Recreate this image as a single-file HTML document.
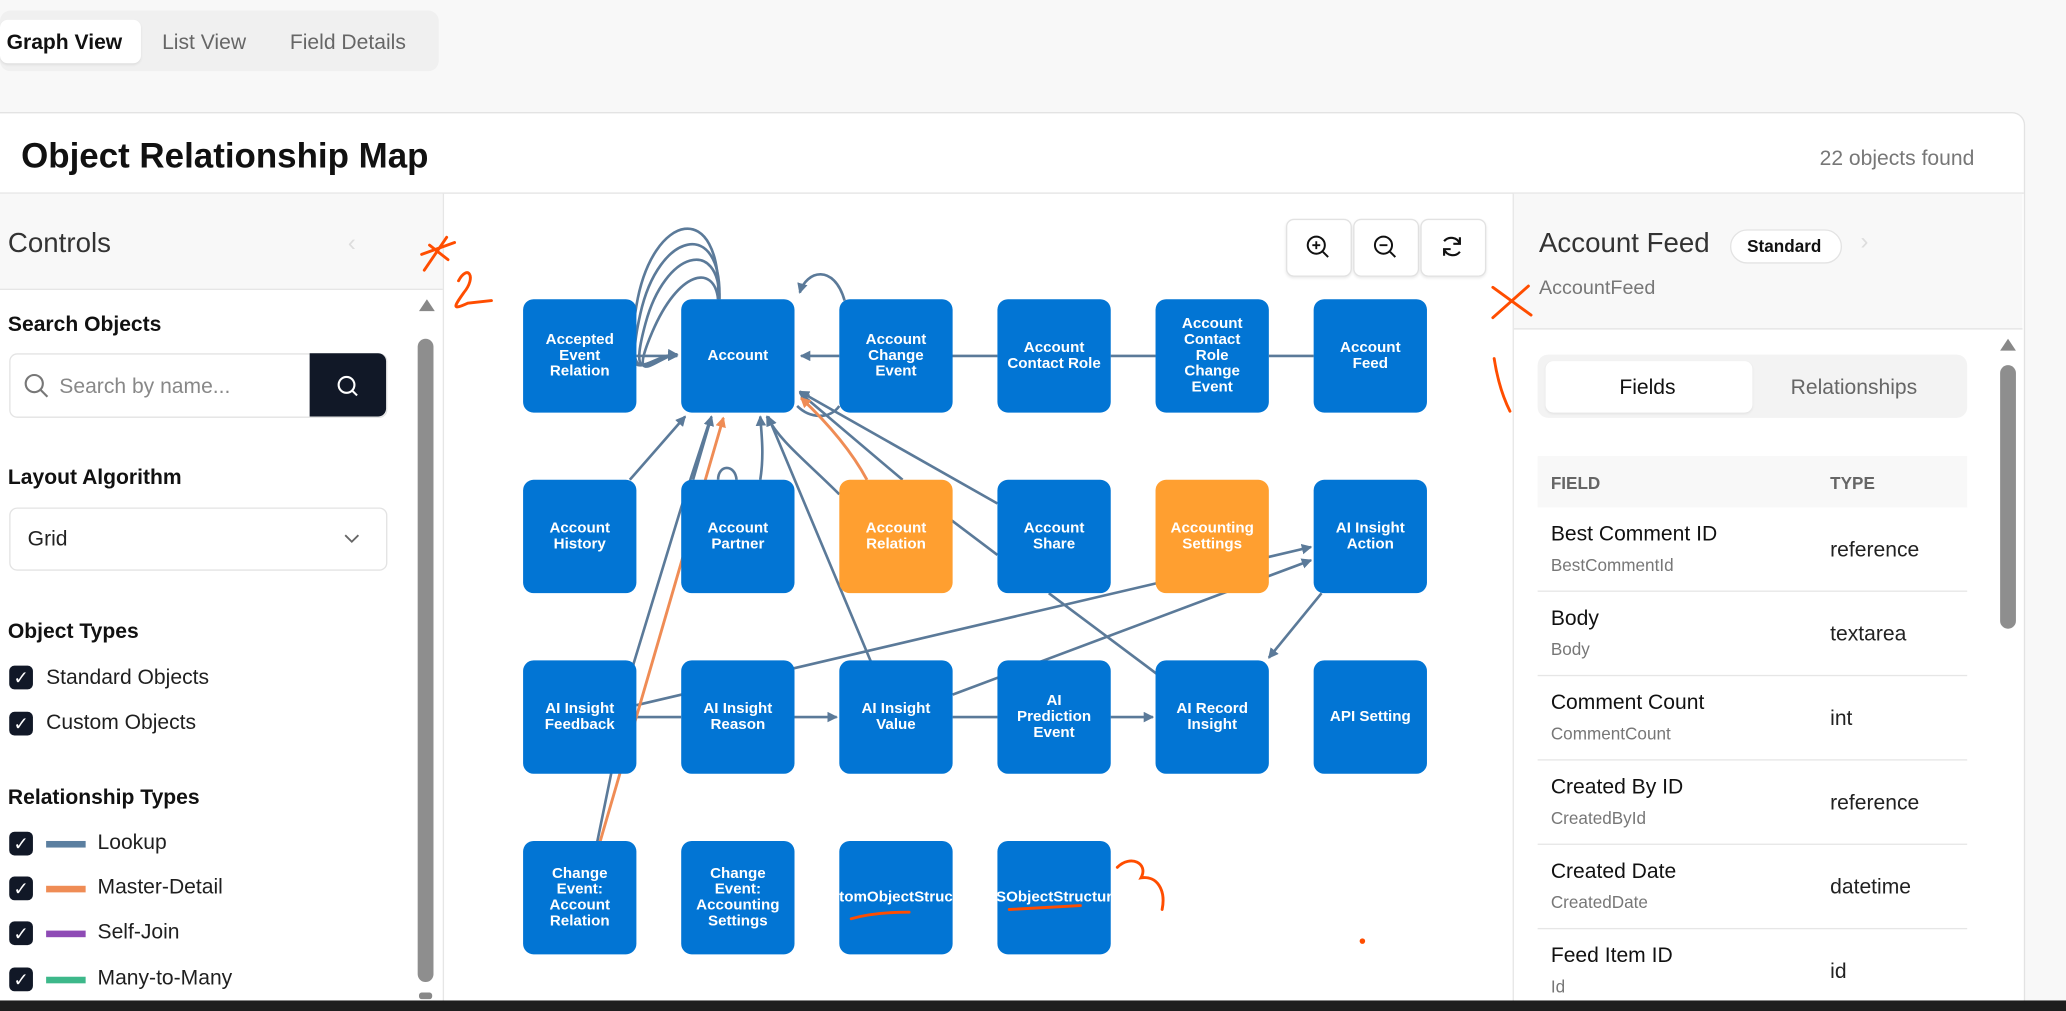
<!DOCTYPE html>
<html><head><meta charset="utf-8"><style>
html,body{margin:0;padding:0;width:2066px;height:1011px;overflow:hidden;background:#f8f8f8;font-family:"Liberation Sans",sans-serif;}
#s{position:absolute;left:0;top:0;width:1568px;height:767px;transform:scale(1.31760,1.31813);transform-origin:0 0;overflow:hidden;}
.a{position:absolute;}
.t{position:absolute;white-space:nowrap;}
.node{position:absolute;width:86px;height:86px;border-radius:8px;background:#0275d4;color:#fff;font-weight:bold;font-size:11.5px;line-height:12px;display:flex;align-items:center;justify-content:center;text-align:center;overflow:hidden;white-space:normal;}
.or{background:#ff9f30;}
.cb{position:absolute;width:18px;height:18px;border-radius:4px;background:#111827;color:#fff;font-size:14px;line-height:18px;text-align:center;}
.lbl{font-size:16px;color:#1f1f1f;}
.h{font-size:16px;font-weight:bold;color:#111;}
.zb{position:absolute;top:166px;width:48px;height:42px;border:1px solid #e2e2e2;border-radius:6px;background:#fff;box-shadow:0 1px 2px rgba(0,0,0,.08);}
.row{position:absolute;left:1167px;width:326px;height:63px;border-bottom:1px solid #e6e6e6;}
.fn{position:absolute;left:10px;top:12px;font-size:16px;color:#111;}
.fa{position:absolute;left:10px;top:36px;font-size:13px;color:#777;}
.ft{position:absolute;left:222px;top:24px;font-size:16px;color:#222;}
</style></head><body><div id="s">
<div class="a" style="left:0;top:8px;width:333px;height:46px;background:#f0f0f0;border-radius:8px;"></div>
<div class="a" style="left:0;top:15px;width:107px;height:33px;background:#fff;border-radius:6px;box-shadow:0 1px 2px rgba(0,0,0,.08);"></div>
<div class="t" style="left:5px;top:24px;font-size:16px;font-weight:bold;color:#111;">Graph View</div>
<div class="t" style="left:123px;top:24px;font-size:16px;color:#666;">List View</div>
<div class="t" style="left:220px;top:24px;font-size:16px;color:#666;">Field Details</div>
<div class="a" style="left:-1px;top:85px;width:1536px;height:700px;background:#fff;border:1px solid #e3e3e3;border-radius:0 10px 0 0;"></div>
<div class="t" style="left:16px;top:103px;font-size:26.5px;font-weight:bold;color:#111;">Object Relationship Map</div>
<div class="t" style="left:1381px;top:112px;font-size:16px;color:#777;">22 objects found</div>
<div class="a" style="left:0;top:146px;width:1536px;height:1px;background:#e3e3e3;"></div>
<div class="a" style="left:0;top:147px;width:336px;height:72px;background:#f8f8f8;border-bottom:1px solid #e6e6e6;"></div>
<div class="t" style="left:6px;top:173px;font-size:21px;color:#333;">Controls</div>
<div class="t" style="left:264px;top:174px;font-size:18px;color:#ddd;">‹</div>
<div class="a" style="left:336px;top:147px;width:1px;height:620px;background:#e6e6e6;"></div>
<div class="a" style="left:318px;top:227px;width:0;height:0;border-left:6px solid transparent;border-right:6px solid transparent;border-bottom:9px solid #888;"></div>
<div class="a" style="left:317px;top:257px;width:12px;height:488px;background:#8e8e8e;border-radius:6px;"></div>
<div class="a" style="left:318px;top:753px;width:10px;height:5px;background:#888;border-radius:2px;"></div>
<div class="t h" style="left:6px;top:238px;">Search Objects</div>
<div class="a" style="left:7px;top:268px;width:285px;height:47px;border:1px solid #e3e3e3;border-radius:6px;background:#fff;"></div>
<svg class="a" style="left:18px;top:283px" width="20" height="20"><circle cx="8" cy="8" r="6.5" fill="none" stroke="#777" stroke-width="1.6"/><line x1="13" y1="13" x2="18" y2="18" stroke="#777" stroke-width="1.6"/></svg>
<div class="t" style="left:45px;top:285px;font-size:16px;color:#888;">Search by name...</div>
<div class="a" style="left:235px;top:268px;width:58px;height:48px;background:#111827;border-radius:0 6px 6px 0;"></div>
<svg class="a" style="left:255px;top:284px" width="20" height="20"><circle cx="8" cy="8" r="6" fill="none" stroke="#fff" stroke-width="1.6"/><line x1="12.5" y1="12.5" x2="16" y2="16" stroke="#fff" stroke-width="1.6"/></svg>
<div class="t h" style="left:6px;top:354px;">Layout Algorithm</div>
<div class="a" style="left:7px;top:385px;width:285px;height:46px;border:1px solid #e3e3e3;border-radius:6px;background:#fff;"></div>
<div class="t" style="left:21px;top:401px;font-size:16px;color:#222;">Grid</div>
<svg class="a" style="left:260px;top:404px" width="14" height="10"><polyline points="2,2 7,7 12,2" fill="none" stroke="#666" stroke-width="1.4"/></svg>
<div class="t h" style="left:6px;top:471px;">Object Types</div>
<div class="cb" style="left:7px;top:505px;">✓</div><div class="t lbl" style="left:35px;top:506px;">Standard Objects</div>
<div class="cb" style="left:7px;top:540px;">✓</div><div class="t lbl" style="left:35px;top:540px;">Custom Objects</div>
<div class="t h" style="left:6px;top:597px;">Relationship Types</div>
<div class="cb" style="left:7px;top:631px;">✓</div><div class="a" style="left:35px;top:638px;width:30px;height:5px;background:#5b7fa0;"></div><div class="t lbl" style="left:74px;top:631px;">Lookup</div>
<div class="cb" style="left:7px;top:665px;">✓</div><div class="a" style="left:35px;top:672px;width:30px;height:5px;background:#ef8c55;"></div><div class="t lbl" style="left:74px;top:665px;">Master-Detail</div>
<div class="cb" style="left:7px;top:699px;">✓</div><div class="a" style="left:35px;top:706px;width:30px;height:5px;background:#8e4bb5;"></div><div class="t lbl" style="left:74px;top:699px;">Self-Join</div>
<div class="cb" style="left:7px;top:734px;">✓</div><div class="a" style="left:35px;top:741px;width:30px;height:5px;background:#3db88a;"></div><div class="t lbl" style="left:74px;top:734px;">Many-to-Many</div>
<div class="zb" style="left:976px;"></div><div class="zb" style="left:1027px;"></div><div class="zb" style="left:1078px;"></div>
<svg class="a" style="left:990px;top:177px" width="20" height="20"><circle cx="9" cy="9" r="6.5" fill="none" stroke="#111" stroke-width="1.5"/><line x1="14" y1="14" x2="18" y2="18" stroke="#111" stroke-width="1.5"/><line x1="6" y1="9" x2="12" y2="9" stroke="#111" stroke-width="1.4"/><line x1="9" y1="6" x2="9" y2="12" stroke="#111" stroke-width="1.4"/></svg>
<svg class="a" style="left:1041px;top:177px" width="20" height="20"><circle cx="9" cy="9" r="6.5" fill="none" stroke="#111" stroke-width="1.5"/><line x1="14" y1="14" x2="18" y2="18" stroke="#111" stroke-width="1.5"/><line x1="6" y1="9" x2="12" y2="9" stroke="#111" stroke-width="1.4"/></svg>
<svg class="a" style="left:1092px;top:177px" width="20" height="20"><path d="M16 8 A7 7 0 0 0 4 6" fill="none" stroke="#111" stroke-width="1.6"/><path d="M4 12 A7 7 0 0 0 16 14" fill="none" stroke="#111" stroke-width="1.6"/><polyline points="16,3 16,8 11,8" fill="none" stroke="#111" stroke-width="1.6"/><polyline points="4,17 4,12 9,12" fill="none" stroke="#111" stroke-width="1.6"/></svg>
<svg class="a" style="left:0;top:0" width="1568" height="767">
<defs>
<marker id="ag" markerWidth="8" markerHeight="8" refX="7" refY="4" orient="auto" markerUnits="userSpaceOnUse"><path d="M0,0 L8,4 L0,8 z" fill="#5b7a99"/></marker>
<marker id="ao" markerWidth="8" markerHeight="8" refX="7" refY="4" orient="auto" markerUnits="userSpaceOnUse"><path d="M0,0 L8,4 L0,8 z" fill="#ef8c55"/></marker>
</defs>
<g fill="none" stroke="#5b7a99" stroke-width="2">
<path d="M545 227 C548 150 495 160 483 232 S492 268 514 269" marker-end="url(#ag)"/>
<path d="M546 227 C548 165 500 175 486 238 S495 268 514 269"/>
<path d="M546 227 C546 180 505 190 490 245 S498 268 514 269"/>
<path d="M545 227 C542 200 515 205 495 252 S502 268 514 269"/>
<line x1="483" y1="270" x2="514" y2="270" marker-end="url(#ag)"/>
<line x1="637" y1="270" x2="608" y2="270" marker-end="url(#ag)"/>
<line x1="683" y1="270" x2="757" y2="270"/><line x1="843" y1="270" x2="877" y2="270"/><line x1="963" y1="270" x2="997" y2="270"/>
<path d="M641 228 C633 200 612 205 607 222" marker-end="url(#ag)"/>
<line x1="478" y1="364" x2="520" y2="316" marker-end="url(#ag)"/>
<line x1="526" y1="364" x2="540" y2="316" marker-end="url(#ag)"/>
<path d="M545 364 C545 352 558 352 559 364"/>
<path d="M577 364 C580 345 578 330 577 316" marker-end="url(#ag)"/>
<path d="M637 375 C612 350 592 335 582 316" marker-end="url(#ag)"/>
<line x1="661" y1="502" x2="583" y2="316" marker-end="url(#ag)"/>
<polyline points="453,640 481,503 517,385 539,318"/>
<line x1="685" y1="364" x2="607" y2="298" marker-end="url(#ag)"/>
<path d="M605 308 C615 318 630 318 637 308"/>
<line x1="757" y1="382" x2="607" y2="297" marker-end="url(#ag)"/>
<line x1="700" y1="378" x2="757" y2="421"/>
<line x1="796" y1="450" x2="879" y2="512"/>
<line x1="483" y1="535" x2="995" y2="415" marker-end="url(#ag)"/>
<line x1="723" y1="527" x2="995" y2="425" marker-end="url(#ag)"/>
<line x1="1003" y1="450" x2="963" y2="499" marker-end="url(#ag)"/>
<line x1="483" y1="544" x2="517" y2="544"/>
<line x1="603" y1="544" x2="635" y2="544" marker-end="url(#ag)"/>
<line x1="723" y1="544" x2="757" y2="544"/>
<line x1="843" y1="544" x2="875" y2="544" marker-end="url(#ag)"/>
</g>
<g fill="none" stroke="#ef8c55" stroke-width="2.2">
<line x1="455" y1="640" x2="549" y2="317" marker-end="url(#ao)"/>
<path d="M658 364 C645 340 625 318 608 302" marker-end="url(#ao)"/>
</g>
</svg>
<div class="node" style="left:397px;top:227px;">Accepted<br>Event<br>Relation</div>
<div class="node" style="left:517px;top:227px;">Account</div>
<div class="node" style="left:637px;top:227px;">Account<br>Change<br>Event</div>
<div class="node" style="left:757px;top:227px;">Account<br>Contact Role</div>
<div class="node" style="left:877px;top:227px;">Account<br>Contact<br>Role<br>Change<br>Event</div>
<div class="node" style="left:997px;top:227px;">Account<br>Feed</div>
<div class="node" style="left:397px;top:364px;">Account<br>History</div>
<div class="node" style="left:517px;top:364px;">Account<br>Partner</div>
<div class="node or" style="left:637px;top:364px;">Account<br>Relation</div>
<div class="node" style="left:757px;top:364px;">Account<br>Share</div>
<div class="node or" style="left:877px;top:364px;">Accounting<br>Settings</div>
<div class="node" style="left:997px;top:364px;">AI Insight<br>Action</div>
<div class="node" style="left:397px;top:501px;">AI Insight<br>Feedback</div>
<div class="node" style="left:517px;top:501px;">AI Insight<br>Reason</div>
<div class="node" style="left:637px;top:501px;">AI Insight<br>Value</div>
<div class="node" style="left:757px;top:501px;">AI<br>Prediction<br>Event</div>
<div class="node" style="left:877px;top:501px;">AI Record<br>Insight</div>
<div class="node" style="left:997px;top:501px;">API Setting</div>
<div class="node" style="left:397px;top:638px;">Change<br>Event:<br>Account<br>Relation</div>
<div class="node" style="left:517px;top:638px;">Change<br>Event:<br>Accounting<br>Settings</div>
<div class="node" style="left:637px;top:638px;white-space:nowrap;">tomObjectStruc</div>
<div class="node" style="left:757px;top:638px;white-space:nowrap;">SObjectStructur</div>
<div class="a" style="left:1148px;top:147px;width:1px;height:620px;background:#e6e6e6;"></div>
<div class="a" style="left:1149px;top:147px;width:386px;height:102px;background:#f8f8f8;border-bottom:1px solid #e3e3e3;"></div>
<div class="t" style="left:1168px;top:173px;font-size:21px;color:#333;">Account Feed</div>
<div class="a" style="left:1313px;top:174px;width:83px;height:24px;border:1px solid #e3e3e3;border-radius:13px;background:#fff;"></div>
<div class="t" style="left:1326px;top:179px;font-size:13px;font-weight:bold;color:#111;">Standard</div>
<div class="t" style="left:1412px;top:173px;font-size:18px;color:#ddd;">›</div>
<div class="t" style="left:1168px;top:210px;font-size:15px;color:#777;">AccountFeed</div>
<div class="a" style="left:1167px;top:269px;width:326px;height:48px;background:#f3f3f3;border-radius:8px;"></div>
<div class="a" style="left:1173px;top:274px;width:157px;height:39px;background:#fff;border-radius:6px;box-shadow:0 1px 2px rgba(0,0,0,.07);"></div>
<div class="t" style="left:1229px;top:286px;font-size:16px;color:#111;">Fields</div>
<div class="t" style="left:1359px;top:286px;font-size:16px;color:#666;">Relationships</div>
<div class="a" style="left:1167px;top:346px;width:326px;height:39px;background:#f8f8f8;"></div>
<div class="t" style="left:1177px;top:359px;font-size:13px;font-weight:bold;color:#666;">FIELD</div>
<div class="t" style="left:1389px;top:359px;font-size:13px;font-weight:bold;color:#666;">TYPE</div>
<div class="row" style="top:385px;"><div class="fn">Best Comment ID</div><div class="fa">BestCommentId</div><div class="ft">reference</div></div>
<div class="row" style="top:449px;"><div class="fn">Body</div><div class="fa">Body</div><div class="ft">textarea</div></div>
<div class="row" style="top:513px;"><div class="fn">Comment Count</div><div class="fa">CommentCount</div><div class="ft">int</div></div>
<div class="row" style="top:577px;"><div class="fn">Created By ID</div><div class="fa">CreatedById</div><div class="ft">reference</div></div>
<div class="row" style="top:641px;"><div class="fn">Created Date</div><div class="fa">CreatedDate</div><div class="ft">datetime</div></div>
<div class="row" style="top:705px;border:none;"><div class="fn">Feed Item ID</div><div class="fa">Id</div><div class="ft">id</div></div>
<div class="a" style="left:1518px;top:257px;width:0;height:0;border-left:6px solid transparent;border-right:6px solid transparent;border-bottom:9px solid #888;"></div>
<div class="a" style="left:1518px;top:277px;width:12px;height:200px;background:#8e8e8e;border-radius:6px;"></div>
<div class="a" style="left:0;top:759px;width:1568px;height:12px;background:#1e1e1e;"></div>
<svg class="a" style="left:0;top:0" width="1568" height="767"><g fill="none" stroke="#ff4d00" stroke-width="2.2" stroke-linecap="round">
<path d="M320 193 L345 184"/><path d="M339 180 L322 205"/><path d="M326 186 L340 197"/>
<path d="M348 213 C355 200 362 210 352 222 C345 232 342 236 355 230 L373 228"/>
<path d="M1133 218 L1162 239"/><path d="M1160 217 L1133 241"/>
<path d="M1134 272 C1136 285 1140 300 1146 312"/>
<path d="M848 658 C858 648 872 655 866 666 C878 664 885 675 882 690"/>
<path d="M646 697 C660 693 675 692 690 692"/><path d="M766 690 L820 687"/>
<circle cx="1034" cy="714" r="1" fill="#ff4d00"/>
</g></svg>
</div></body></html>
